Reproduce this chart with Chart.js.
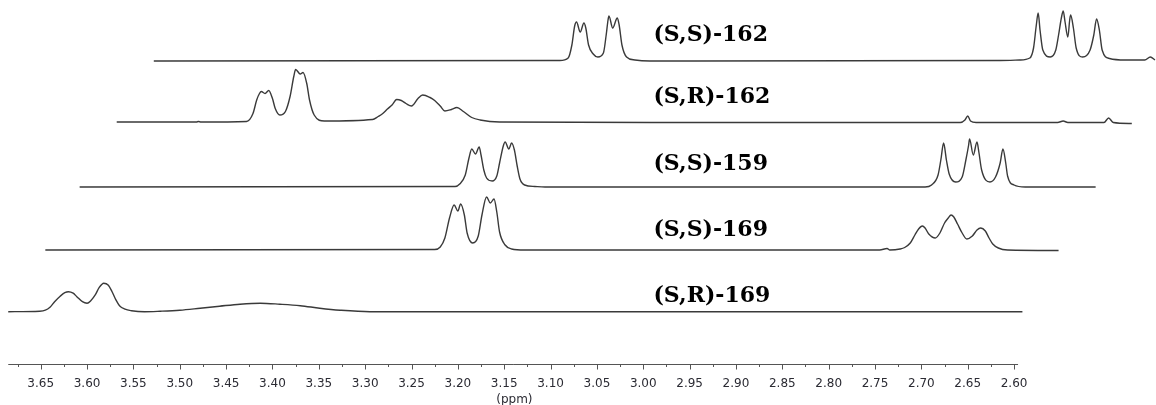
<!DOCTYPE html>
<html>
<head>
<meta charset="utf-8">
<script src="https://cdn.jsdelivr.net/npm/chart.js@4"></script>
<style>
  body { margin: 0; background: #fff; }
  #wrap { width: 1156px; height: 405px; }
</style>
</head>
<body>
<div id="wrap"><canvas id="nmr"></canvas></div>
<script>
// sample names, top to bottom
const traceNames = ['(S,S)-162', '(S,R)-162', '(S,S)-159', '(S,S)-169', '(S,R)-169'];
// vertical stacking of each spectrum (intensity units)
const stackOffsets = [606.6, 483.6, 354.6, 228.6, 105.2];

// chemical shift (ppm, as read on the shared axis) and intensity for each trace
const ss162Ppm = [3.528, 3.090, 3.081, 3.077, 3.074, 3.072, 3.068, 3.064, 3.062, 3.059, 3.054, 3.049, 3.043, 3.040, 3.038, 3.037, 3.033, 3.028, 3.026, 3.023, 3.018, 3.009, 2.993, 2.615,
  2.594, 2.583, 2.579, 2.576, 2.574, 2.572, 2.569, 2.561, 2.555, 2.552, 2.549, 2.547, 2.545, 2.542, 2.540, 2.539, 2.536, 2.533, 2.526, 2.518, 2.514, 2.511, 2.508, 2.505, 2.497, 2.480, 2.459, 2.453, 2.448];
const ss162Int = [0, 1, 6, 32, 70, 78, 58, 76, 66, 32, 14, 8, 16, 52, 82, 90, 66, 86, 72, 32, 8, 2, 0, 1,
  2, 6, 26, 72, 96, 62, 22, 8, 22, 52, 86, 100, 78, 48, 82, 92, 66, 26, 8, 22, 52, 84, 62, 22, 5, 2, 2, 8, 2];

const sr162Ppm = [3.568, 3.482, 3.480, 3.477, 3.428, 3.421, 3.417, 3.414, 3.412, 3.408, 3.404, 3.400, 3.397, 3.392, 3.386, 3.381, 3.377, 3.375, 3.370, 3.367, 3.363, 3.360, 3.355, 3.344,
  3.292, 3.286, 3.281, 3.276, 3.271, 3.266, 3.261, 3.256, 3.250, 3.243, 3.238, 3.230, 3.225, 3.219, 3.214, 3.207, 3.201, 3.194, 3.185, 3.176, 3.155,
  2.939, 2.658, 2.653, 2.650, 2.647, 2.641, 2.553, 2.547, 2.542, 2.503, 2.498, 2.493, 2.473];
const sr162Int = [1, 1, 2, 1, 2, 18, 45, 58, 62, 58, 64, 48, 28, 15, 22, 52, 92, 106, 97, 100, 78, 45, 15, 3,
  6, 12, 18, 27, 35, 46, 44, 38, 33, 48, 55, 50, 44, 33, 23, 26, 30, 22, 10, 5, 1,
  0, 0, 5, 13, 3, 0, 0, 3, 0, 0, 9, 0, -2];

const ss159Ppm = [3.608, 3.203, 3.198, 3.192, 3.188, 3.185, 3.181, 3.177, 3.175, 3.172, 3.169, 3.163, 3.158, 3.155, 3.151, 3.149, 3.145, 3.142, 3.139, 3.136, 3.133, 3.128, 3.117, 3.106,
  2.696, 2.689, 2.682, 2.679, 2.676, 2.673, 2.670, 2.663, 2.656, 2.652, 2.649, 2.648, 2.644, 2.640, 2.638, 2.635, 2.626, 2.620, 2.615, 2.612, 2.609, 2.607, 2.600, 2.588, 2.512];
const ss159Int = [0, 1, 6, 24, 58, 76, 66, 80, 64, 34, 18, 12, 22, 48, 82, 90, 76, 88, 74, 42, 16, 4, 1, 0,
  0, 4, 24, 54, 88, 54, 26, 10, 20, 54, 84, 96, 64, 90, 70, 34, 10, 20, 48, 76, 48, 22, 4, 0, 0];

const ss169Ppm = [3.645, 3.225, 3.219, 3.214, 3.209, 3.204, 3.200, 3.197, 3.193, 3.190, 3.184, 3.178, 3.174, 3.169, 3.165, 3.161, 3.158, 3.155, 3.149, 3.142, 3.128,
  2.745, 2.737, 2.734, 2.723, 2.718, 2.712, 2.707, 2.703, 2.699, 2.696, 2.692, 2.685, 2.680, 2.675, 2.671, 2.668, 2.665, 2.661, 2.656, 2.651, 2.645, 2.640, 2.636, 2.631, 2.627, 2.623, 2.617, 2.607, 2.552];
const ss169Int = [0, 1, 6, 24, 64, 90, 78, 92, 70, 34, 14, 28, 70, 106, 94, 102, 76, 36, 10, 2, 0,
  0, 3, 0, 2, 5, 14, 30, 42, 48, 44, 32, 24, 34, 54, 64, 70, 66, 52, 34, 22, 28, 40, 44, 38, 24, 12, 4, 0, -1];

const sr169Ppm = [3.685, 3.651, 3.645, 3.640, 3.635, 3.629, 3.624, 3.620, 3.615, 3.611, 3.605, 3.600, 3.596, 3.591, 3.587, 3.582, 3.577, 3.573, 3.569, 3.565, 3.559, 3.552, 3.538,
  3.521, 3.500, 3.478, 3.457, 3.435, 3.413, 3.392, 3.370, 3.349, 3.327, 3.295, 2.591];
const sr169Int = [0, 1, 3, 9, 20, 31, 38, 40, 37, 30, 20, 17, 22, 34, 48, 57, 53, 40, 24, 12, 5, 2, 0,
  1, 3, 7, 11, 15, 17, 15, 12, 7, 3, 0, 0];

// axis ticks
const tickLabels = ['3.65', '3.60', '3.55', '3.50', '3.45', '3.40', '3.35', '3.30', '3.25', '3.20', '3.15',
  '3.10', '3.05', '3.00', '2.95', '2.90', '2.85', '2.80', '2.75', '2.70', '2.65', '2.60'];
const minorTicks = [3.675, 3.625, 3.575, 3.525, 3.475, 3.425, 3.375, 3.325, 3.275, 3.225, 3.175,
  3.125, 3.075, 3.025, 2.975, 2.925, 2.875, 2.825, 2.775, 2.725, 2.675, 2.625];
const axisRange = [3.685, 2.5957];
const axisTitle = '(ppm)';

const traces = [
  [ss162Ppm, ss162Int],
  [sr162Ppm, sr162Int],
  [ss159Ppm, ss159Int],
  [ss169Ppm, ss169Int],
  [sr169Ppm, sr169Int],
];

const datasets = traces.map(([ppm, inten], i) => ({
  label: traceNames[i],
  data: ppm.map((p, j) => ({ x: p, y: inten[j] + stackOffsets[i] })),
  borderColor: '#3a3a3a',
  borderWidth: 1.4,
  pointRadius: 0,
  fill: false,
  cubicInterpolationMode: 'monotone',
}));

// draws the ppm axis under the bottom trace and the sample names
const ppmAxis = {
  id: 'ppmAxis',
  afterDraw(chart) {
    const { ctx, chartArea } = chart;
    const xs = chart.scales.x;
    const ys = chart.scales.y;
    const y0 = Math.round(chartArea.bottom) + 0.5;
    ctx.save();
    ctx.strokeStyle = '#555';
    ctx.lineWidth = 1;
    ctx.beginPath();
    ctx.moveTo(xs.getPixelForValue(axisRange[0]), y0);
    ctx.lineTo(xs.getPixelForValue(axisRange[1]), y0);
    tickLabels.forEach(t => {
      const px = Math.round(xs.getPixelForValue(parseFloat(t))) + 0.5;
      ctx.moveTo(px, y0);
      ctx.lineTo(px, y0 + 5);
    });
    minorTicks.forEach(v => {
      const px = Math.round(xs.getPixelForValue(v)) + 0.5;
      ctx.moveTo(px, y0);
      ctx.lineTo(px, y0 + 2.5);
    });
    ctx.stroke();

    ctx.fillStyle = '#2b2b33';
    ctx.font = '12px "DejaVu Sans"';
    ctx.textAlign = 'center';
    ctx.textBaseline = 'middle';
    tickLabels.forEach(t => {
      ctx.fillText(t, xs.getPixelForValue(parseFloat(t)), y0 + 19);
    });
    ctx.fillText(axisTitle, xs.getPixelForValue(3.139), y0 + 35);

    // sample names
    const lift = [52, 50, 46, 40, 31];
    ctx.fillStyle = '#000';
    ctx.font = 'bold 22px "DejaVu Serif"';
    ctx.textAlign = 'left';
    traceNames.forEach((name, i) => {
      ctx.fillText(name, xs.getPixelForValue(2.989), ys.getPixelForValue(stackOffsets[i] + lift[i]));
    });
    ctx.restore();
  }
};

new Chart(document.getElementById('nmr'), {
  type: 'line',
  data: { datasets },
  options: {
    responsive: true,
    maintainAspectRatio: false,
    animation: false,
    layout: { padding: { top: 0, left: 0, right: 0, bottom: 40.7 } },
    plugins: { legend: { display: false }, tooltip: { enabled: false } },
    scales: {
      x: { type: 'linear', reverse: true, min: 2.4469, max: 3.6939, display: false },
      y: { min: 0, max: 728.6, display: false },
    },
  },
  plugins: [ppmAxis],
});
</script>
</body>
</html>
